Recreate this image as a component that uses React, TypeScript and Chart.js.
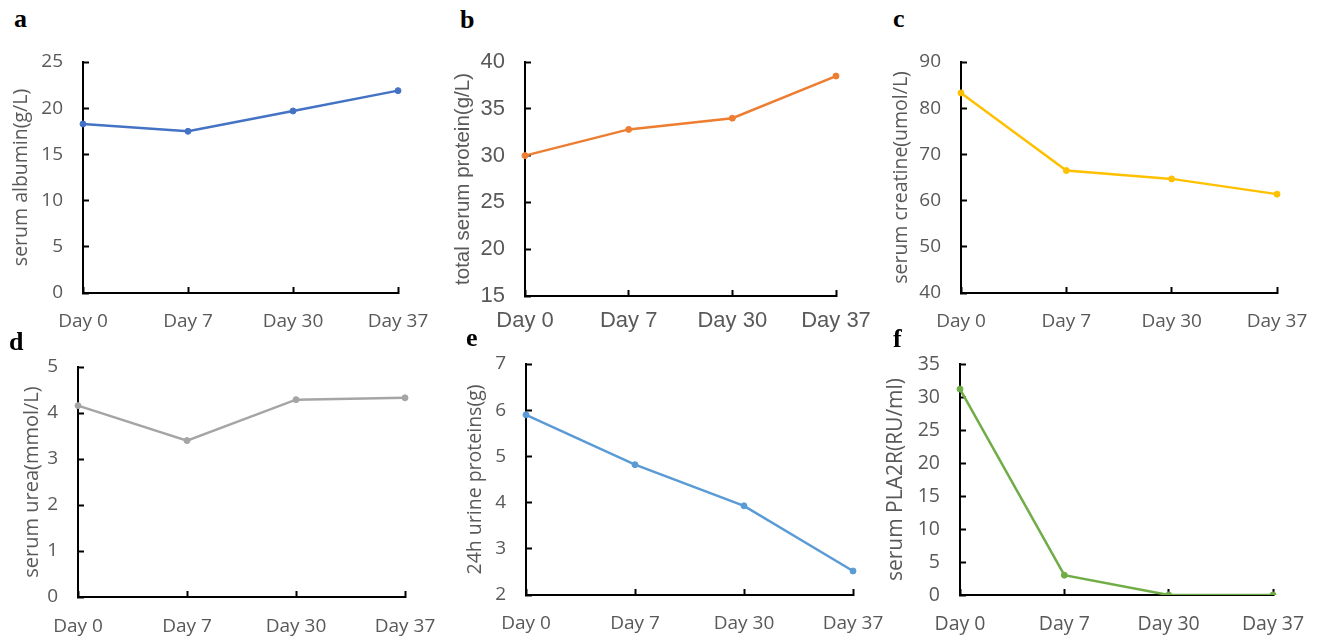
import React, { useEffect, useRef } from "react";
import { Chart, registerables } from "chart.js";

Chart.register(...registerables);

// ---- data ----
const categories = ["Day 0", "Day 7", "Day 30", "Day 37"];
const albumin = [18.3, 17.5, 19.7, 21.9];
const totalProtein = [30.0, 32.8, 34.0, 38.5];
const creatine = [83.3, 66.5, 64.7, 61.4];
const urea = [4.16, 3.4, 4.29, 4.33];
const urineProtein = [5.9, 4.82, 3.93, 2.52];
const pla2r = [31.2, 3.0, 0.0, 0.0];

const yTitles = [
  "serum albumin(g/L)",
  "total serum protein(g/L)",
  "serum creatine(umol/L)",
  "serum urea(mmol/L)",
  "24h urine proteins(g)",
  "serum PLA2R(RU/ml)",
];
const panelLetters = ["a", "b", "c", "d", "e", "f"];
const yMins = [0, 15, 40, 0, 2, 0];
const yMaxs = [25, 40, 90, 5, 7, 35];
const ySteps = [5, 5, 10, 1, 1, 5];
const seriesList = [albumin, totalProtein, creatine, urea, urineProtein, pla2r];
const colors = ["#4472C4", "#ED7D31", "#FFC000", "#A5A5A5", "#5B9BD5", "#70AD47"];

// ---- layout (positions/styles only) ----
type Layout = {
  box: { left: number; top: number; width: number; height: number };
  area: { left: number; top: number; right: number; bottom: number };
  family: string;
  tickSize: number;
  titleSize: number;
  titleCenterX: number;
  xPad: number;
  letter: { left: number; baseline: number };
};

const OPEN = "'Open Sans', 'Noto Sans', sans-serif";
const ARIAL = "'Liberation Sans', Arial, sans-serif";

const layouts: Layout[] = [
  { box: { left: 0, top: 40, width: 440, height: 300 }, area: { left: 83, top: 62, right: 398, bottom: 293 }, family: OPEN, tickSize: 19, titleSize: 19.5, titleCenterX: 21.7, xPad: 23, letter: { left: 14, baseline: 28 } },
  { box: { left: 440, top: 40, width: 440, height: 300 }, area: { left: 525, top: 62, right: 836, bottom: 296 }, family: ARIAL, tickSize: 22, titleSize: 20.5, titleCenterX: 463, xPad: 18, letter: { left: 460, baseline: 29 } },
  { box: { left: 880, top: 40, width: 438, height: 300 }, area: { left: 961, top: 62, right: 1277, bottom: 293 }, family: OPEN, tickSize: 19, titleSize: 19.5, titleCenterX: 901, xPad: 23, letter: { left: 893, baseline: 28 } },
  { box: { left: 0, top: 340, width: 440, height: 300 }, area: { left: 78, top: 367, right: 405, bottom: 597 }, family: OPEN, tickSize: 19, titleSize: 20, titleCenterX: 32, xPad: 24, letter: { left: 9, baseline: 351 } },
  { box: { left: 440, top: 340, width: 470, height: 300 }, area: { left: 526, top: 364, right: 853, bottom: 595 }, family: OPEN, tickSize: 19, titleSize: 19.5, titleCenterX: 475, xPad: 23, letter: { left: 466, baseline: 347 } },
  { box: { left: 880, top: 340, width: 438, height: 300 }, area: { left: 960, top: 364, right: 1273, bottom: 595 }, family: OPEN, tickSize: 19.5, titleSize: 21, titleCenterX: 896, xPad: 24, letter: { left: 893, baseline: 348 } },
];

function Panel({ idx }: { idx: number }) {
  const ref = useRef<HTMLCanvasElement>(null);
  const L = layouts[idx];
  useEffect(() => {
    if (!ref.current) return;
    const yWidth = L.area.left - L.box.left;
    const xHeight = L.box.top + L.box.height - L.area.bottom;
    const titleLH = L.titleSize * 1.2;
    const titlePadTop = L.titleCenterX - L.box.left - titleLH / 2;
    const axisGrid = {
      display: true,
      drawOnChartArea: false,
      drawTicks: true,
      tickLength: -6,
      tickWidth: 2,
      tickColor: "#000",
      color: "#000",
      offset: false,
    };
    const chart = new Chart(ref.current, {
      type: "line",
      data: {
        labels: categories,
        datasets: [
          {
            data: seriesList[idx],
            borderColor: colors[idx],
            backgroundColor: colors[idx],
            pointBackgroundColor: colors[idx],
            pointBorderColor: colors[idx],
            borderWidth: 2.5,
            pointRadius: 3,
            pointBorderWidth: 1,
            tension: 0,
            fill: false,
          },
        ],
      },
      options: {
        responsive: false,
        animation: false,
        devicePixelRatio: 1,
        events: [],
        layout: {
          padding: {
            left: 0,
            top: L.area.top - L.box.top,
            right: L.box.left + L.box.width - L.area.right,
            bottom: 0,
          },
        },
        plugins: { legend: { display: false }, tooltip: { enabled: false } },
        scales: {
          x: {
            type: "category",
            offset: false,
            grid: axisGrid,
            border: { display: true, color: "#000", width: 2 },
            ticks: {
              color: "#595959",
              font: { family: L.family, size: L.tickSize },
              padding: L.xPad,
              maxRotation: 0,
              autoSkip: false,
            },
            afterFit: (s: any) => {
              s.height = xHeight;
              s.paddingLeft = 0;
              s.paddingRight = 0;
            },
          },
          y: {
            type: "linear",
            min: yMins[idx],
            max: yMaxs[idx],
            grid: axisGrid,
            border: { display: true, color: "#000", width: 2 },
            ticks: {
              stepSize: ySteps[idx],
              color: "#595959",
              font: { family: L.family, size: L.tickSize },
              padding: 26,
            },
            title: {
              display: true,
              text: yTitles[idx],
              color: "#595959",
              font: { family: L.family, size: L.titleSize },
              padding: { top: titlePadTop, bottom: 0 },
            },
            afterFit: (s: any) => {
              s.width = yWidth;
              s.paddingTop = 0;
              s.paddingBottom = 0;
            },
          },
        },
      },
    } as any);
    return () => chart.destroy();
  }, []);
  return (
    <canvas
      ref={ref}
      width={L.box.width}
      height={L.box.height}
      style={{
        position: "absolute",
        left: L.box.left,
        top: L.box.top,
        width: L.box.width,
        height: L.box.height,
      }}
    />
  );
}

export default function App() {
  return (
    <div
      style={{
        position: "absolute",
        left: 0,
        top: 0,
        width: 1318,
        height: 640,
        background: "#fff",
        overflow: "hidden",
      }}
    >
      {layouts.map((_, i) => (
        <Panel key={i} idx={i} />
      ))}
      {layouts.map((L, i) => (
        <div
          key={"l" + i}
          style={{
            position: "absolute",
            left: L.letter.left,
            top: L.letter.baseline - 21.8,
            font: "bold 26px 'Liberation Serif', 'Times New Roman', serif",
            lineHeight: "26px",
            color: "#000",
          }}
        >
          {panelLetters[i]}
        </div>
      ))}
    </div>
  );
}
